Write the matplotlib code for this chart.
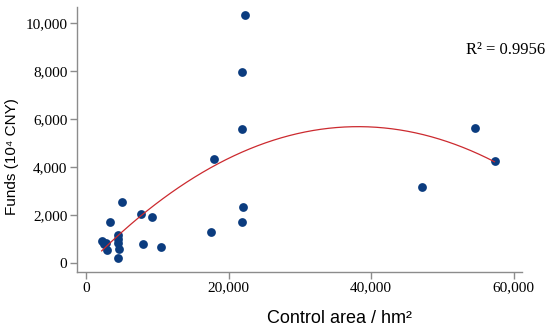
import numpy as np
import matplotlib
matplotlib.use("Agg")
import matplotlib.pyplot as plt

# DATA
area = [2300, 2500, 2800, 3000, 3300, 4500, 4500, 4500, 4600, 4500,
        5000, 7700, 8000, 9200, 10500, 17500, 18000, 21850, 22000,
        21950, 21950, 22250, 47100, 54500, 57300]
funds = [900, 800, 850, 550, 1700, 1150, 1000, 850, 600, 200,
         2550, 2050, 800, 1900, 650, 1300, 4330, 1720, 2350,
         5570, 7950, 10350, 3150, 5620, 4250]

# quadratic trend line y = c2*x^2 + c1*x + c0
fit_coef = [-4.0e-6, 0.3054, -151.0]
fit_range = [2200, 57300]
r2_text = "R\u00b2 = 0.9956"

xticks = [0, 20000, 40000, 60000]
yticks = [0, 2000, 4000, 6000, 8000, 10000]

sans = ['Liberation Sans', 'DejaVu Sans']
serif = ['Liberation Serif', 'DejaVu Serif']

# PLOT
fig = plt.figure(figsize=(5.5, 3.3), dpi=100)
ax = fig.add_axes([0.14, 0.176, 0.809, 0.803])

ax.scatter(area, funds, s=40, color='#0b3c7f', zorder=2, linewidths=0)
xs = np.linspace(fit_range[0], fit_range[1], 200)
ax.plot(xs, np.polyval(fit_coef, xs), color='#cc2a2f', lw=0.9, zorder=3)

ax.set_xlim(-1262, 61150)
ax.set_ylim(-375, 10667)
ax.set_xticks(xticks)
ax.set_yticks(yticks)
ax.set_xticklabels([f'{v:,}' for v in xticks], family=serif, fontsize=11)
ax.set_yticklabels([f'{v:,}' for v in yticks], family=serif, fontsize=11)

for side in ['top', 'right']:
    ax.spines[side].set_visible(False)
for side in ['left', 'bottom']:
    ax.spines[side].set_color('#8c8c8c')
    ax.spines[side].set_linewidth(1.0)
ax.tick_params(colors='#8c8c8c', labelcolor='black', length=5, width=1.0, pad=2)

ax.set_xlabel('Control area / hm\u00b2', family=sans, fontsize=13)
ax.set_ylabel('Funds (10\u2074 CNY)', family=sans, fontsize=11)
ax.xaxis.set_label_coords(0.59, -0.145)
ax.yaxis.set_label_coords(-0.13, 0.434)

fig.text(0.991, 0.848, r2_text, family=serif, fontsize=12, ha='right', va='center')

fig.savefig('out.png', dpi=100)
